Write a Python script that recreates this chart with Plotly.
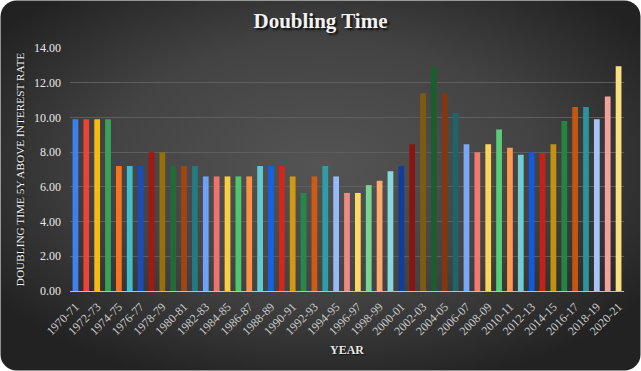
import base64
import plotly.graph_objects as go

years = [f"{y}-{str(y + 1)[-2:]}" for y in range(1970, 2021)]
doubling_time = [
    9.9, 9.9, 9.9, 9.9, 7.2, 7.2, 7.2, 8.0, 8.0, 7.2,
    7.2, 7.2, 6.6, 6.6, 6.6, 6.6, 6.6, 7.2, 7.2, 7.2,
    6.6, 5.65, 6.6, 7.2, 6.6, 5.65, 5.65, 6.1, 6.35, 6.9,
    7.2, 8.45, 11.4, 12.95, 11.4, 10.25, 8.45, 8.0, 8.45, 9.3,
    8.25, 7.85, 8.0, 7.95, 8.45, 9.8, 10.6, 10.6, 9.9, 11.2,
    12.95,
]
bar_colors = [
    "#3D80EE", "#E8443A", "#F5BB12", "#37A358", "#F8731C", "#45BDC6",
    "#1B4DBA", "#A21812", "#98700A", "#206B36", "#A4450E", "#237A80",
    "#6EA2F6", "#EE746B", "#FACD45", "#50C56F", "#FB9142", "#63C9D1",
    "#1462E6", "#D3271A", "#CF9A12", "#26894A", "#CF5B12", "#2E9DA6",
    "#95BAF9", "#EE8A84", "#FDD962", "#79D493", "#FDA96C", "#88D7DD",
    "#0F3E9E", "#8C1410", "#7D5C0C", "#1A5E2E", "#82380E", "#1D6568",
    "#79A8F6", "#EE7B72", "#FDD45A", "#5ACB76", "#FB9A50", "#6FCDD4",
    "#1259DE", "#C42218", "#C2920E", "#248440", "#C4560F", "#2A939C",
    "#A6C4FA", "#F2A29C", "#FADF80",
]
tick_labels = years[::2]
y_ticks = [0, 2, 4, 6, 8, 10, 12, 14]

W, H = 641, 371
ML, MR, MT, MB = 70, 17, 48, 80

svg = (
    f"<svg xmlns='http://www.w3.org/2000/svg' width='{W}' height='{H}' viewBox='0 0 {W} {H}' preserveAspectRatio='none'>"
    "<defs><radialGradient id='g' cx='50%' cy='45%' r='62%'>"
    "<stop offset='0' stop-color='#545454'/><stop offset='0.55' stop-color='#434343'/>"
    "<stop offset='1' stop-color='#222222'/></radialGradient></defs>"
    f"<rect x='0.5' y='0.5' width='{W - 1}' height='{H - 1}' rx='16' ry='16' fill='url(#g)'/></svg>"
)
src = "data:image/svg+xml;base64," + base64.b64encode(svg.encode()).decode()

pw, ph = W - ML - MR, H - MT - MB

fig = go.Figure()
fig.add_trace(go.Bar(
    x=years, y=doubling_time,
    marker=dict(color=bar_colors, line=dict(width=0)),
    hoverinfo="x+y",
))

serif = "Liberation Serif, Times New Roman, serif"
fig.update_layout(
    width=W, height=H,
    margin=dict(l=ML, r=MR, t=MT, b=MB, pad=0),
    paper_bgcolor="white",
    plot_bgcolor="rgba(0,0,0,0)",
    bargap=0.47,
    showlegend=False,
    title=dict(
        text="<b>Doubling Time</b>", x=0.5, xanchor="center", y=0.945, yanchor="middle",
        font=dict(family=serif, size=21, color="#F2F2F2", shadow="2px 2px 2px #111"),
    ),
    images=[dict(
        source=src, xref="paper", yref="paper",
        x=-ML / pw, y=1 + MT / ph, sizex=W / pw, sizey=H / ph,
        xanchor="left", yanchor="top", sizing="stretch", layer="below",
    )],
    xaxis=dict(
        type="category",
        tickmode="array", tickvals=tick_labels, ticktext=tick_labels,
        tickangle=-45,
        tickfont=dict(family=serif, size=12, color="#C8C8C8"),
        ticklabelstandoff=3,
        showgrid=False, showline=True, linecolor="#BFBFBF", linewidth=1,
        ticks="", zeroline=False,
        title=dict(text="<b>YEAR</b>", font=dict(family=serif, size=12, color="#E6E6E6",
                                               shadow="1px 1px 1px #111"), standoff=8),
    ),
    yaxis=dict(
        range=[0, 14], tickmode="array", tickvals=y_ticks,
        ticktext=[f"{v:.2f}" for v in y_ticks],
        tickfont=dict(family=serif, size=12, color="#E8E8E8"),
        showgrid=True, gridcolor="#5E5E5E", gridwidth=1,
        zeroline=False, showline=False, ticks="",
        ticklabelstandoff=8,
        title=dict(text="DOUBLING TIME 5Y ABOVE INTEREST RATE",
                   font=dict(family=serif, size=11.3, color="#F2F2F2", shadow="1px 1px 1px #111"),
                   standoff=7),
    ),
)

fig.write_html(
    "out.html",
    config={"displayModeBar": False},
    post_script="document.body.style.margin='0';document.body.style.padding='0';",
)
